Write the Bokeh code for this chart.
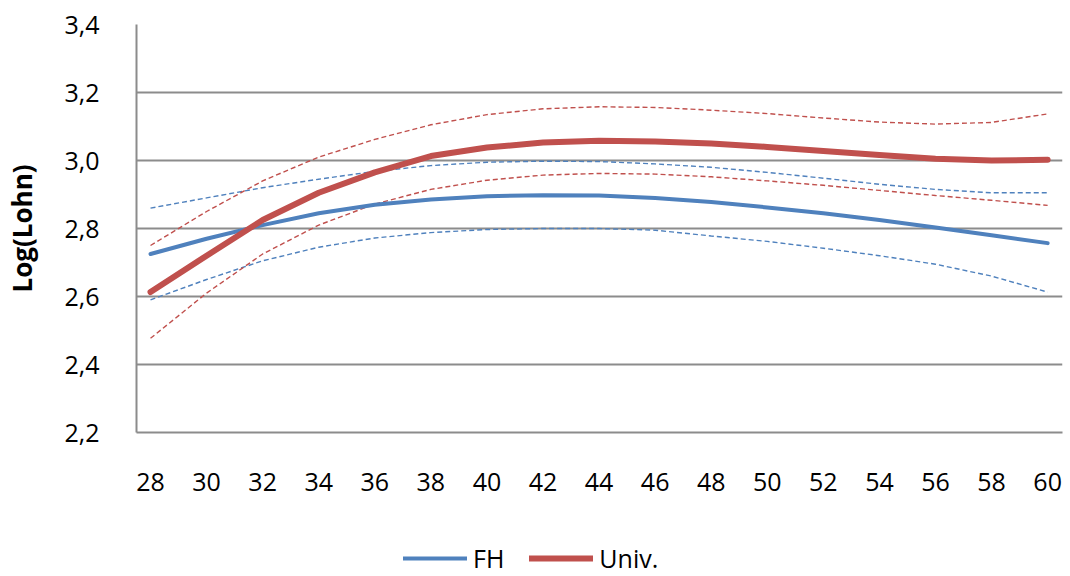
from bokeh.plotting import figure
from bokeh.layouts import column
from bokeh.models import Range1d, FixedTicker, Legend, LegendItem
from bokeh.embed import file_html
from bokeh.resources import INLINE

ages = [28, 30, 32, 34, 36, 38, 40, 42, 44, 46, 48, 50, 52, 54, 56, 58, 60]

fh = [2.725, 2.77, 2.81, 2.845, 2.87, 2.885, 2.895, 2.898, 2.897, 2.89, 2.878,
      2.862, 2.845, 2.825, 2.803, 2.78, 2.757]
fh_upper = [2.86, 2.89, 2.92, 2.945, 2.968, 2.985, 2.995, 2.998, 2.997, 2.99, 2.98,
            2.965, 2.948, 2.93, 2.915, 2.905, 2.905]
fh_lower = [2.59, 2.65, 2.705, 2.745, 2.772, 2.788, 2.797, 2.80, 2.80, 2.795, 2.778,
            2.762, 2.742, 2.72, 2.695, 2.66, 2.613]

univ = [2.613, 2.72, 2.825, 2.905, 2.965, 3.013, 3.038, 3.053, 3.058, 3.056, 3.05,
        3.04, 3.028, 3.016, 3.005, 3.0, 3.002]
univ_upper = [2.75, 2.85, 2.94, 3.01, 3.062, 3.105, 3.135, 3.152, 3.158, 3.156, 3.148,
              3.138, 3.125, 3.113, 3.107, 3.112, 3.137]
univ_lower = [2.477, 2.61, 2.725, 2.81, 2.872, 2.915, 2.942, 2.957, 2.962, 2.96, 2.952,
              2.94, 2.927, 2.912, 2.897, 2.883, 2.868]

y_ticks = [2.2, 2.4, 2.6, 2.8, 3.0, 3.2, 3.4]
y_tick_labels = ["2,2", "2,4", "2,6", "2,8", "3,0", "3,2", "3,4"]
y_label = "Log(Lohn)"
series_names = ["FH", "Univ."]

BLUE = "#4F81BD"
RED = "#C0504D"
GRAY = "#8C8C8C"
FONT = "Open Sans"

p = figure(width=1064, height=520, output_backend="svg", toolbar_location=None,
           x_range=Range1d(27.5, 60.53), y_range=Range1d(2.2, 3.4),
           min_border_left=136, min_border_top=24, min_border_right=2,
           min_border_bottom=88)
p.outline_line_color = None
p.background_fill_color = "white"
p.border_fill_color = "white"

# grids
p.xgrid.grid_line_color = None
p.ygrid.grid_line_color = GRAY
p.ygrid.grid_line_width = 2
p.ygrid.ticker = FixedTicker(ticks=y_ticks)

# axes
p.yaxis.ticker = FixedTicker(ticks=y_ticks)
p.yaxis.major_label_overrides = {t: l for t, l in zip(y_ticks, y_tick_labels)}
p.xaxis.ticker = FixedTicker(ticks=ages)
for ax in (p.xaxis, p.yaxis):
    ax.axis_line_color = GRAY
    ax.axis_line_width = 2
    ax.major_tick_line_color = None
    ax.minor_tick_line_color = None
    ax.major_label_text_font = FONT
    ax.major_label_text_font_size = "25px"
    ax.major_label_text_color = "black"
p.xaxis.major_label_standoff = 34
p.yaxis.major_label_standoff = 31
p.yaxis.axis_label = y_label
p.yaxis.axis_label_text_font = FONT
p.yaxis.axis_label_text_font_style = "bold"
p.yaxis.axis_label_text_font_size = "26px"
p.yaxis.axis_label_text_color = "black"
p.yaxis.axis_label_standoff = 21

# confidence bands (dashed)
p.line(ages, fh_upper, line_color=BLUE, line_width=1.4, line_dash="5 3")
p.line(ages, fh_lower, line_color=BLUE, line_width=1.4, line_dash="5 3")
p.line(ages, univ_upper, line_color=RED, line_width=1.4, line_dash="5 3")
p.line(ages, univ_lower, line_color=RED, line_width=1.4, line_dash="5 3")

# main lines
p.line(ages, fh, line_color=BLUE, line_width=4, line_cap="round", line_join="round")
p.line(ages, univ, line_color=RED, line_width=6, line_cap="round", line_join="round")

# legend strip below the chart (its frame is aligned with the chart's frame)
lg = figure(width=1064, height=56, output_backend="svg", toolbar_location=None,
            x_range=Range1d(0, 1), y_range=Range1d(0, 1),
            x_axis_location=None, y_axis_location=None,
            min_border_left=0, min_border_right=0, min_border_top=0,
            min_border_bottom=0)
lg.outline_line_color = None
lg.xgrid.grid_line_color = None
lg.ygrid.grid_line_color = None
# key renderers: their points lie outside the strip's visible range
k_fh = lg.line([5, 6], [5, 6], line_color=BLUE, line_width=4, line_cap="round")
k_univ = lg.line([5, 6], [5, 6], line_color=RED, line_width=6, line_cap="round")

legend = Legend(items=[LegendItem(label=series_names[0], renderers=[k_fh]),
                       LegendItem(label=series_names[1], renderers=[k_univ])],
                orientation="horizontal", location=(267, 1),
                glyph_width=64, glyph_height=20, label_height=20,
                label_standoff=6, spacing=25, padding=0, margin=0,
                border_line_color=None, background_fill_alpha=0,
                label_text_font=FONT, label_text_font_size="25px",
                label_text_color="black")
lg.add_layout(legend, "center")

open("out.html", "w").write(file_html(column(p, lg), INLINE))
